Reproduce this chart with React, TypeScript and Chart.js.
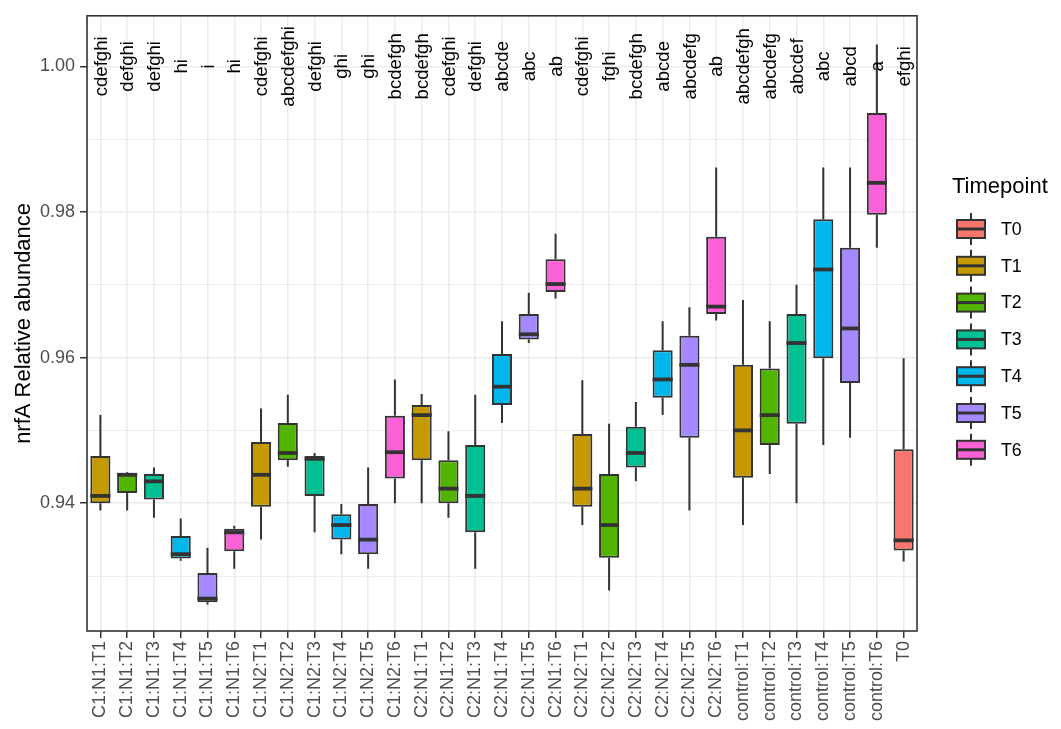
import React, { useEffect, useRef } from "react";
import { Chart, registerables } from "chart.js";

Chart.register(...registerables);

const categories = [
  "C1:N1:T1", "C1:N1:T2", "C1:N1:T3", "C1:N1:T4", "C1:N1:T5", "C1:N1:T6",
  "C1:N2:T1", "C1:N2:T2", "C1:N2:T3", "C1:N2:T4", "C1:N2:T5", "C1:N2:T6",
  "C2:N1:T1", "C2:N1:T2", "C2:N1:T3", "C2:N1:T4", "C2:N1:T5", "C2:N1:T6",
  "C2:N2:T1", "C2:N2:T2", "C2:N2:T3", "C2:N2:T4", "C2:N2:T5", "C2:N2:T6",
  "control:T1", "control:T2", "control:T3", "control:T4", "control:T5", "control:T6",
  "T0",
];

const whiskerLow = [
  0.9390, 0.9390, 0.9380, 0.9321, 0.9261, 0.9310,
  0.9350, 0.9450, 0.9360, 0.9330, 0.9310, 0.9400,
  0.9400, 0.9380, 0.9310, 0.9510, 0.9620, 0.9681,
  0.9370, 0.9280, 0.9430, 0.9521, 0.9390, 0.9651,
  0.9370, 0.9440, 0.9400, 0.9480, 0.9490, 0.9751,
  0.9320,
];
const q1 = [
  0.9400, 0.9414, 0.9405, 0.9324, 0.9264, 0.9334,
  0.9395, 0.9459, 0.9410, 0.9350, 0.9330, 0.9434,
  0.9459, 0.9400, 0.9360, 0.9535, 0.9625, 0.9690,
  0.9395, 0.9325, 0.9449, 0.9545, 0.9490, 0.9660,
  0.9435, 0.9480, 0.9509, 0.9599, 0.9565, 0.9796,
  0.9335,
];
const median = [
  0.9410, 0.9439, 0.9430, 0.9330, 0.9269, 0.9360,
  0.9439, 0.9469, 0.9461, 0.9370, 0.9350, 0.9470,
  0.9521, 0.9420, 0.9410, 0.9560, 0.9632, 0.9701,
  0.9420, 0.9370, 0.9469, 0.9570, 0.9590, 0.9670,
  0.9500, 0.9521, 0.9620, 0.9721, 0.9640, 0.9840,
  0.9349,
];
const q3 = [
  0.9465, 0.9442, 0.9440, 0.9355, 0.9304, 0.9365,
  0.9484, 0.9510, 0.9465, 0.9385, 0.9399, 0.9520,
  0.9535, 0.9459, 0.9480, 0.9605, 0.9660, 0.9735,
  0.9495, 0.9440, 0.9505, 0.9610, 0.9630, 0.9766,
  0.9590, 0.9585, 0.9660, 0.9790, 0.9751, 0.9936,
  0.9474,
];
const whiskerHigh = [
  0.9521, 0.9443, 0.9449, 0.9379, 0.9339, 0.9369,
  0.9530, 0.9549, 0.9469, 0.9399, 0.9449, 0.9570,
  0.9550, 0.9499, 0.9549, 0.9650, 0.9689, 0.9770,
  0.9569, 0.9509, 0.9539, 0.9650, 0.9669, 0.9861,
  0.9679, 0.9650, 0.9700, 0.9861, 0.9861, 1.0030,
  0.9599,
];

const letters = [
  "cdefghi", "defghi", "defghi", "hi", "i", "hi",
  "cdefghi", "abcdefghi", "defghi", "ghi", "ghi", "bcdefgh",
  "bcdefgh", "cdefghi", "defghi", "abcde", "abc", "ab",
  "cdefghi", "fghi", "bcdefgh", "abcde", "abcdefg", "ab",
  "abcdefgh", "abcdefg", "abcdef", "abc", "abcd", "a",
  "efghi",
];
const letterY = 1.0;

const timepoints = ["T0", "T1", "T2", "T3", "T4", "T5", "T6"];
const timepointColors = ["#F8766D", "#C49A00", "#53B400", "#00C094", "#00B6EB", "#A58AFF", "#FB61D7"];

const yTicks = [0.93, 0.94, 0.95, 0.96, 0.97, 0.98, 0.99, 1.0];
const yMin = 0.92245;
const yMax = 1.00694;

const FONT = "'Liberation Sans', Arial, Helvetica, sans-serif";
const OUTLINE = "#333333";

const colorFor = (label: string) => {
  const tp = label.split(":").pop() as string;
  return timepointColors[timepoints.indexOf(tp)];
};

const isMajor = (v: number) => Math.abs(Math.round(v * 100) % 2) === 0;

const boxPlugin = {
  id: "boxExtras",
  beforeDatasetsDraw(chart: any) {
    const { ctx, scales } = chart;
    const xs = scales.x;
    const ys = scales.y;
    ctx.save();
    ctx.strokeStyle = OUTLINE;
    ctx.lineWidth = 2;
    ctx.lineCap = "butt";
    categories.forEach((_, i) => {
      const x = xs.getPixelForValue(i);
      ctx.beginPath();
      ctx.moveTo(x, ys.getPixelForValue(whiskerHigh[i]));
      ctx.lineTo(x, ys.getPixelForValue(q3[i]));
      ctx.moveTo(x, ys.getPixelForValue(q1[i]));
      ctx.lineTo(x, ys.getPixelForValue(whiskerLow[i]));
      ctx.stroke();
    });
    ctx.restore();
  },
  afterDatasetsDraw(chart: any) {
    const { ctx, scales, chartArea } = chart;
    const xs = scales.x;
    const ys = scales.y;
    const meta = chart.getDatasetMeta(0);
    ctx.save();
    // medians
    ctx.strokeStyle = OUTLINE;
    ctx.lineWidth = 3.8;
    categories.forEach((_, i) => {
      const bar = meta.data[i];
      const half = bar.width / 2;
      const x = xs.getPixelForValue(i);
      const y = ys.getPixelForValue(median[i]);
      ctx.beginPath();
      ctx.moveTo(x - half, y);
      ctx.lineTo(x + half, y);
      ctx.stroke();
    });
    // letters
    ctx.fillStyle = "#000000";
    ctx.font = `18.6px ${FONT}`;
    ctx.textAlign = "center";
    ctx.textBaseline = "middle";
    categories.forEach((_, i) => {
      const x = xs.getPixelForValue(i);
      const y = ys.getPixelForValue(letterY);
      ctx.save();
      ctx.translate(x, y);
      ctx.rotate(-Math.PI / 2);
      ctx.fillText(letters[i], 0, 1);
      ctx.restore();
    });
    // panel border
    ctx.strokeStyle = OUTLINE;
    ctx.lineWidth = 1.6;
    ctx.strokeRect(chartArea.left, chartArea.top, chartArea.right - chartArea.left, chartArea.bottom - chartArea.top);
    ctx.restore();
  },
  afterDraw(chart: any) {
    const { ctx } = chart;
    ctx.save();
    ctx.fillStyle = "#000000";
    ctx.font = `22px ${FONT}`;
    ctx.textAlign = "left";
    ctx.textBaseline = "alphabetic";
    ctx.fillText("Timepoint", 952, 193);
    ctx.font = `17.8px ${FONT}`;
    ctx.textBaseline = "middle";
    timepoints.forEach((tp, k) => {
      const cy = 229 + k * 36.8;
      const cx = 971;
      ctx.strokeStyle = OUTLINE;
      ctx.lineWidth = 2;
      ctx.beginPath();
      ctx.moveTo(cx, cy - 16);
      ctx.lineTo(cx, cy + 16);
      ctx.stroke();
      ctx.fillStyle = timepointColors[k];
      ctx.fillRect(957, cy - 9, 28, 18);
      ctx.lineWidth = 2;
      ctx.strokeRect(957, cy - 9, 28, 18);
      ctx.lineWidth = 3;
      ctx.beginPath();
      ctx.moveTo(957, cy);
      ctx.lineTo(985, cy);
      ctx.stroke();
      ctx.fillStyle = "#000000";
      ctx.fillText(tp, 1001, cy + 1);
    });
    ctx.restore();
  },
};

export default function App() {
  const ref = useRef<HTMLCanvasElement | null>(null);
  useEffect(() => {
    if (!ref.current) return;
    Chart.defaults.font.family = FONT;
    const chart = new Chart(ref.current, {
      type: "bar",
      data: {
        labels: categories,
        datasets: [
          {
            label: "box",
            data: categories.map((_, i) => [q1[i], q3[i]]) as any,
            backgroundColor: categories.map(colorFor),
            borderColor: OUTLINE,
            borderWidth: 2,
            borderSkipped: false,
            barPercentage: 0.75,
            categoryPercentage: 1,
          },
        ],
      },
      options: {
        responsive: false,
        animation: false,
        layout: { padding: { left: 0, top: 10, right: 144, bottom: 0 } },
        plugins: {
          legend: { display: false },
          tooltip: { enabled: false },
        },
        scales: {
          x: {
            type: "category",
            offset: true,
            grid: {
              offset: false,
              color: "#EBEBEB",
              lineWidth: 1.5,
              tickColor: OUTLINE,
              tickLength: 7,
              tickWidth: 1.5,
            },
            border: { display: false },
            ticks: {
              autoSkip: false,
              minRotation: 90,
              maxRotation: 90,
              padding: 3,
              color: "#4D4D4D",
              font: { size: 18, family: FONT },
            },
            afterFit: (s: any) => {
              s.height = 98;
            },
          },
          y: {
            type: "linear",
            min: yMin,
            max: yMax,
            afterBuildTicks: (s: any) => {
              s.ticks = yTicks.map((v) => ({ value: v }));
            },
            grid: {
              color: "#EBEBEB",
              lineWidth: (c: any) => (c.tick && isMajor(c.tick.value) ? 1.5 : 0.9),
              tickColor: (c: any) => (c.tick && isMajor(c.tick.value) ? OUTLINE : "rgba(0,0,0,0)"),
              tickLength: 7,
              tickWidth: 1.5,
            },
            border: { display: false },
            ticks: {
              padding: 5,
              color: "#4D4D4D",
              font: { size: 18, family: FONT },
              callback: (v: any) => (isMajor(Number(v)) ? Number(v).toFixed(2) : ""),
            },
            title: {
              display: true,
              text: "nrfA Relative abundance",
              color: "#000000",
              font: { size: 22, family: FONT },
              padding: { top: 11, bottom: 0 },
            },
            afterFit: (s: any) => {
              s.width = 87;
            },
          },
        },
      },
      plugins: [boxPlugin],
    });
    return () => chart.destroy();
  }, []);
  return (
    <div style={{ position: "absolute", left: 0, top: 0, width: 1061, height: 729, background: "#ffffff" }}>
      <canvas ref={ref} width={1061} height={729} style={{ display: "block" }} />
    </div>
  );
}
